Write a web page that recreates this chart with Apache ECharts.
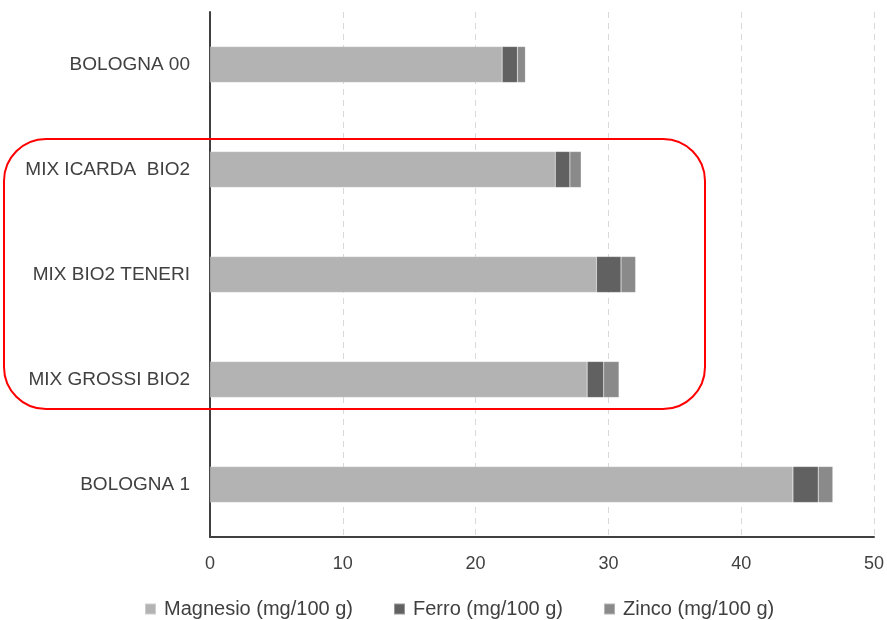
<!DOCTYPE html>
<html>
<head>
<meta charset="utf-8">
<script src="https://cdn.jsdelivr.net/npm/echarts@6/dist/echarts.min.js"></script>
<style>html,body{margin:0;padding:0;background:#fff}#c{width:887px;height:620px}</style>
</head>
<body>
<div id="c"></div>
<script>
var categories = ['BOLOGNA 00', 'MIX ICARDA  BIO2', 'MIX BIO2 TENERI', 'MIX GROSSI BIO2', 'BOLOGNA 1'];
var magnesio = [22.0, 26.0, 29.1, 28.4, 43.9];
var ferro = [1.15, 1.1, 1.85, 1.25, 1.9];
var zinco = [0.6, 0.85, 1.1, 1.15, 1.1];
var seriesNames = ['Magnesio (mg/100 g)', 'Ferro (mg/100 g)', 'Zinco (mg/100 g)'];
var xTicks = [0, 10, 20, 30, 40, 50];

var FONT = 'Liberation Sans';
var chart = echarts.init(document.getElementById('c'), null, {renderer: 'canvas'});
function mk(name, data, color) {
  return {
    name: name, type: 'bar', stack: 'tot', data: data, barWidth: 36,
    itemStyle: {color: color, borderColor: 'rgba(255,255,255,0.35)', borderWidth: 0.5},
    emphasis: {disabled: true}, animation: false
  };
}
chart.setOption({
  animation: false,
  grid: {left: 210, right: 13, top: 12, bottom: 83, containLabel: false},
  xAxis: {
    type: 'value', min: xTicks[0], max: xTicks[xTicks.length - 1], interval: 10,
    axisLine: {show: true, lineStyle: {color: '#404040', width: 2}},
    axisTick: {show: false},
    axisLabel: {margin: 18, fontFamily: FONT, fontSize: 18, color: '#404040'},
    splitLine: {show: true, lineStyle: {color: '#d9d9d9', type: [6, 5], width: 1}}
  },
  yAxis: {
    type: 'category', data: categories, inverse: true,
    axisLine: {show: true, lineStyle: {color: '#404040', width: 2}},
    axisTick: {show: false},
    axisLabel: {margin: 20, fontFamily: FONT, fontSize: 19, color: '#404040'},
    splitLine: {show: false}
  },
  legend: {
    top: 594, left: 139, itemWidth: 11, itemHeight: 11, itemGap: 40,
    icon: 'rect',
    textStyle: {fontFamily: FONT, fontSize: 20, color: '#404040', padding: [0, 0, 0, 3]},
    data: seriesNames
  },
  series: [
    mk(seriesNames[0], magnesio, '#b3b3b3'),
    mk(seriesNames[1], ferro, '#616161'),
    mk(seriesNames[2], zinco, '#8a8a8a')
  ],
  graphic: [{
    type: 'rect', z: 100, silent: true,
    shape: {x: 4, y: 139, width: 701, height: 270, r: 42},
    style: {fill: 'none', stroke: '#ff0000', lineWidth: 2}
  }]
});
</script>
</body>
</html>
